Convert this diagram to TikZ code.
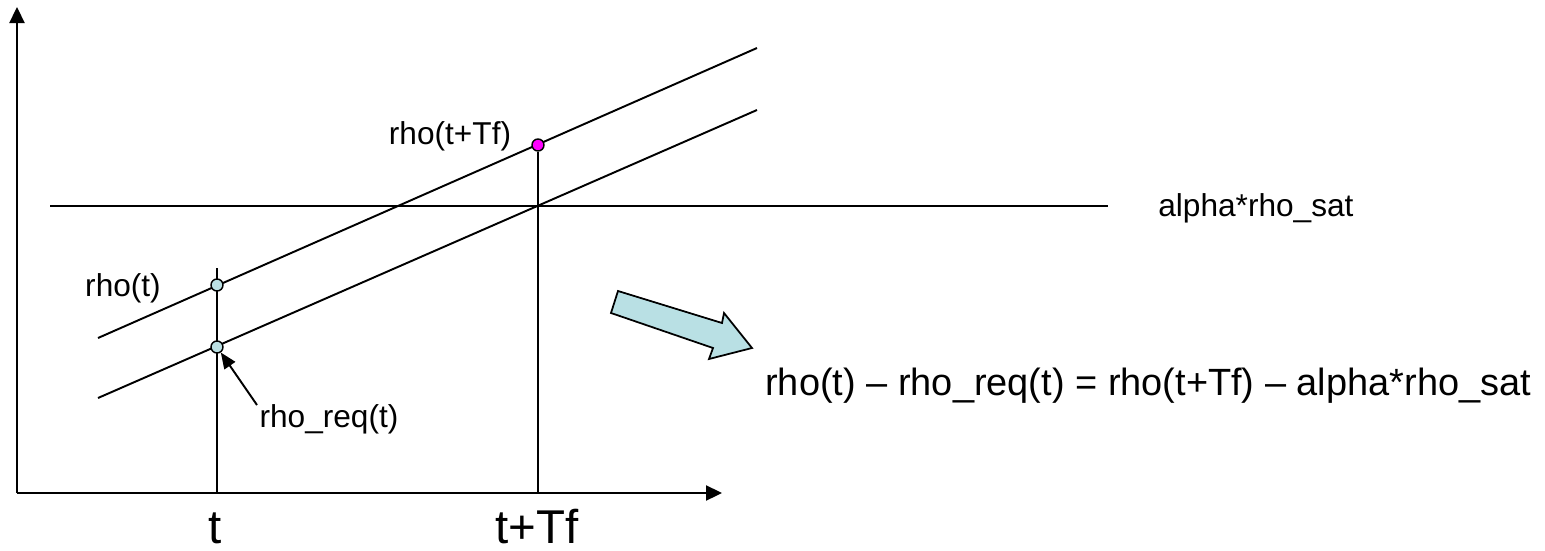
\documentclass[tikz,border=0pt]{standalone}
\usepackage{fontspec}
\setmainfont{Liberation Sans}
\usetikzlibrary{arrows.meta}
\definecolor{dotblue}{RGB}{187,224,227}
\definecolor{dotpink}{RGB}{255,0,255}
\definecolor{bigarrow}{RGB}{185,224,228}
\begin{document}
\begin{tikzpicture}[x=0.02cm, y=-0.02cm,
    line/.style={line width=1.1pt},
    axis/.style={line width=1.3pt, -{Triangle[length=16*0.02cm, width=15*0.02cm]}},
    dot/.style={circle, draw, line width=0.8pt, inner sep=0pt, minimum size=12*0.02cm},
    lbl/.style={font=\fontsize{18}{20}\selectfont},
    big/.style={font=\fontsize{21.6}{24}\selectfont, inner sep=0pt},
    tick/.style={font=\fontsize{27}{30}\selectfont, inner sep=0pt, anchor=base}]
    \useasboundingbox (0,0) rectangle (1545,551);
    % Points
    \coordinate (O) at (17,493);
    \coordinate (ytop) at (17,7);
    \coordinate (xend) at (722,493);
    \coordinate (u1) at (98,338);
    \coordinate (u2) at (757,48);
    \coordinate (l1) at (98,398);
    \coordinate (l2) at (757,110);
    \coordinate (h1) at (50,206);
    \coordinate (h2) at (1108,206);
    \coordinate (ttop) at (217,268);
    \coordinate (tbot) at (217,493);
    \coordinate (tfmid) at (538,365);
    \coordinate (tftop) at (538,268);
    \coordinate (tfbot) at (538,493);
    \coordinate (reqtail) at (257,405);

    % Lines
    \draw[axis] (O) -- (ytop);
    \draw[axis] (O) -- (xend);
    \draw[line] (u1) -- (u2);
    \draw[line] (l1) -- (l2);
    \draw[line] (h1) -- (h2);
    \draw[line] (ttop) -- (tbot);
    \draw[line width=1.6pt] (tftop) -- (tfbot);

    % Nodes
    \node[dot, fill=dotblue] (rt) at (217,285) {};
    \node[dot, fill=dotblue] (rreq) at (217,347) {};
    \node[dot, fill=dotpink] (rtf) at (538,145) {};
    \draw[line width=0.6pt] (rtf) -- (tfmid);
    \draw[line width=1.1pt, -{Triangle[length=16*0.02cm, width=13*0.02cm]}] (reqtail) -- (rreq);

    % Labels
    \node[lbl] (lrt) at (123,288) {rho(t)};
    \node[lbl] (lrtf) at (450,136) {rho(t+Tf)};
    \node[lbl] (lreq) at (329,419) {rho\_req(t)};
    \node[lbl, inner sep=0pt, anchor=west] (lsat) at (1158,208) {alpha*rho\_sat};
    \node[big, anchor=west] (eq) at (765,386) {rho(t) – rho\_req(t) = rho(t+Tf) – alpha*rho\_sat};
    \node[tick] (lt) at (215,543) {t};
    \node[tick] (ltf) at (537,543) {t+Tf};

    % Block arrow
    \draw[line width=1pt, fill=bigarrow, line join=miter]
        (618,291) -- (722,323) -- (724,313) -- (752,348) -- (709,359) -- (713,348) -- (611,313) -- cycle;
\end{tikzpicture}
\end{document}
